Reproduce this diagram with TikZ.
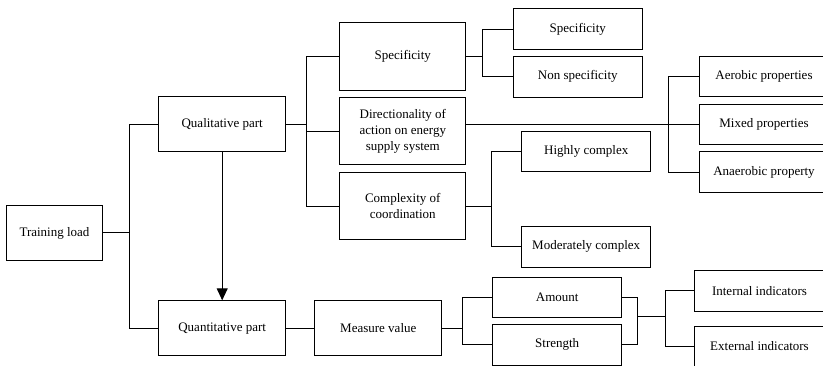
\documentclass[tikz,border=0pt]{standalone}
\usepackage{fontspec}
\setmainfont{Liberation Serif}
\usetikzlibrary{arrows.meta}

\begin{document}
\begin{tikzpicture}[x=1pt,y=-1pt,>={Triangle[length=12pt,width=11pt]},line width=1pt,
                    font=\fontsize{13}{15.7}\selectfont]
  \tikzstyle{box}=[draw,align=center,inner sep=1pt]
  \tikzstyle{wide}=[box,minimum width=127pt,minimum height=55pt]
  \tikzstyle{tall}=[box,minimum width=126.3pt,minimum height=67.6pt]
  \tikzstyle{thin}=[box,minimum width=129.5pt,minimum height=40.5pt]

  \useasboundingbox (0,0) rectangle (823,366);
  \clip (0,0) rectangle (823,366);

  \node[box,minimum width=95.6pt,minimum height=54.6pt] (A) at (54.5,233) {Training load};
  \node[wide]          (B) at (222.2,124.5) {Qualitative part};
  \node[wide]          (C) at (222.2,328.3) {Quantitative part};
  \node[tall]          (D) at (402.8,56.5)  {Specificity};
  \node[tall]          (E) at (402.8,131.2) {Directionality of\\action on energy\\supply system};
  \node[tall]          (F) at (402.8,206.2) {Complexity of\\coordination};
  \node[thin]          (G) at (577.8,29.2)  {Specificity};
  \node[thin]          (H) at (577.8,76.8)  {Non specificity};
  \node[thin]          (I) at (586.2,151.7) {Highly complex};
  \node[thin]          (J) at (586.2,246.8) {Moderately complex};
  \node[thin,minimum width=130pt] (K) at (764,76.3)  {Aerobic properties};
  \node[thin,minimum width=130pt] (L) at (764,124.3) {Mixed properties};
  \node[thin,minimum width=130pt] (M) at (764,172.2) {Anaerobic property};
  \node[wide,minimum width=126.7pt] (N) at (378.3,328.3) {Measure value};
  \node[thin]          (O) at (557.2,297.5) {Amount};
  \node[thin]          (P) at (557.2,344.8) {Strength};
  \node[thin,minimum width=130pt] (Q) at (759.5,290.8) {Internal indicators};
  \node[thin,minimum width=130pt] (R) at (759.5,346.5) {External indicators};

  \coordinate (b1) at (129,0);
  \coordinate (b2) at (306,0);
  \coordinate (b3) at (482.3,0);
  \coordinate (b4) at (491,0);
  \coordinate (b5) at (668.3,0);
  \coordinate (b6) at (462,0);
  \coordinate (b7) at (637.3,316.7);
  \coordinate (b8) at (665,0);

  \draw (A.east)--(A.east -| b1);
  \draw (B.west)--(B.west -| b1)--(C.west -| b1)--(C.west);
  \draw (B.east)--(B.east -| b2);
  \draw (D.west)--(D.west -| b2)--(F.west -| b2)--(F.west);
  \draw (E.west)--(E.west -| b2);
  \draw (D.east)--(D.east -| b3);
  \draw (G.west)--(G.west -| b3)--(H.west -| b3)--(H.west);
  \draw (F.east)--(F.east -| b4);
  \draw (I.west)--(I.west -| b4)--(J.west -| b4)--(J.west);
  \draw (E.east |- L.west)--(L.west);
  \draw (K.west)--(K.west -| b5)--(M.west -| b5)--(M.west);
  \draw (C.east)--(N.west);
  \draw (N.east)--(N.east -| b6);
  \draw (O.west)--(O.west -| b6)--(P.west -| b6)--(P.west);
  \draw (O.east)--(O.east -| b7)--(P.east -| b7)--(P.east);
  \draw (b7)--(b7 -| b8);
  \draw (Q.west)--(Q.west -| b8)--(R.west -| b8)--(R.west);
  \draw[->] (B.south)--(C.north);
\end{tikzpicture}
\end{document}
